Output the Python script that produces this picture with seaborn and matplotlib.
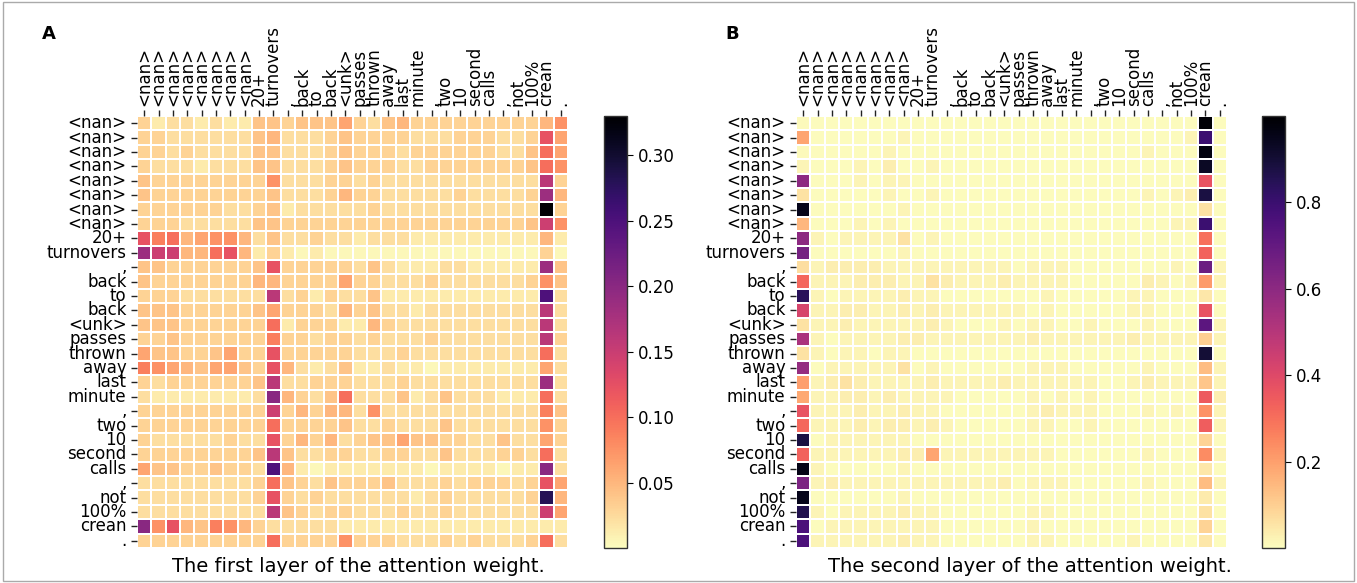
import numpy as np
import matplotlib
matplotlib.use("Agg")
import matplotlib.pyplot as plt
import seaborn as sns
from matplotlib.patches import Rectangle

tokens = ["<nan>"] * 8 + ["20+", "turnovers", ",", "back", "to", "back", "<unk>",
                          "passes", "thrown", "away", "last", "minute", ",", "two",
                          "10", "second", "calls", ",", "not", "100%", "crean", "."]

# first layer: one char per cell, mapped to the weight
levels_a = {"0": 0.004, "1": 0.013, "2": 0.022, "3": 0.03, "4": 0.04, "5": 0.05,
            "6": 0.062, "7": 0.075, "8": 0.088, "9": 0.1, "a": 0.123, "b": 0.148,
            "c": 0.162, "d": 0.185, "e": 0.2, "f": 0.25, "g": 0.28, "h": 0.33}
rows_a = [
    "312212114434446" "324533333333357",
    "332222224522234" "3333222333223a6",
    "332322224422234" "333233333322496",
    "322212224422234" "333223333333497",
    "433333333722233" "2322222222222c3",
    "433333333422235" "3322222322223d5",
    "333333223412222" "2322222222222h3",
    "333222224433333" "3333333333334b7",
    "a89567752422322" "122211111111151",
    "dbb559a51310100" "000000000000030",
    "443333334a33333" "2421112211111d4",
    "433333335533336" "332223222222374",
    "333222222c23132" "2411111111111f2",
    "444333334633325" "3422122222222c2",
    "444333333913331" "1532222222222c2",
    "334333333833233" "2322232222222c3",
    "644334633a33333" "222322222222292",
    "876546643a52124" "112110111111162",
    "323333334c22333" "2223222222222d2",
    "211111112e53249" "222412422211192",
    "333333333b35355" "272222222222284",
    "333333333933334" "223222422222273",
    "322222322a35352" "344644332242263",
    "333333334c42233" "223322422233292",
    "644334332f51011" "1111101111011e2",
    "222222223943243" "3342223233323a6",
    "222222223a32322" "2222123222223g5",
    "222222222c43233" "2223223222222b6",
    "e7a548753222221" "111111111111111",
    "333333333933337" "333222323222392",
]

# second layer: weak cells as chars, the two strong columns as lists
levels_b = {"0": 0.006, "1": 0.02, "2": 0.035, "3": 0.06, "5": 0.19, "*": 0.0}
rows_b = [
    "*00000000000000" "0000000000000*0",
    "*00000010000000" "0000000000001*0",
    "*00000100000000" "0000000001000*0",
    "*00010200100000" "0000000000000*0",
    "*00010110000000" "0000000000000*0",
    "*00000100100000" "0000000001012*0",
    "*00000010000000" "0000000000000*0",
    "*00010100000000" "0000000000011*0",
    "*10111130100000" "0000000000000*0",
    "*00000010000000" "0000000000000*0",
    "*12222111111111" "0111000000010*1",
    "*11122211321112" "1111000002101*1",
    "*10111121100000" "0010000011000*0",
    "*11221121211111" "1010000011000*0",
    "*11211111210001" "0110010001000*1",
    "*10111122111111" "1211111121111*1",
    "*10110110000000" "0000000000000*0",
    "*01111130100000" "0111000001000*1",
    "*12321111211112" "1111110012111*1",
    "*11221211110000" "0101010000000*2",
    "*11121121100000" "0121110001010*1",
    "*11121221210000" "0110010000000*1",
    "*01111110000000" "0000000000000*0",
    "*11111122511111" "1110000001000*1",
    "*10000010000000" "0000000000000*0",
    "*12111111111112" "0111000001000*1",
    "*00000010000000" "0000000000000*0",
    "*10111121100000" "0110000000000*0",
    "*01111111100000" "0100000000000*0",
    "*11111121100000" "0110000010000*0",
]
b_first_col = [0.01, 0.19, 0.01, 0.02, 0.6, 0.06, 0.95, 0.15, 0.6, 0.66,
               0.07, 0.32, 0.84, 0.42, 0.06, 0.53, 0.06, 0.58, 0.2, 0.18,
               0.37, 0.32, 0.88, 0.33, 0.96, 0.64, 0.95, 0.86, 0.76, 0.76]
b_crean_col = [0.99, 0.8, 0.97, 0.93, 0.37, 0.88, 0.06, 0.8, 0.3, 0.33,
               0.68, 0.21, 0.05, 0.37, 0.72, 0.1, 0.9, 0.14, 0.12, 0.35,
               0.23, 0.34, 0.09, 0.24, 0.05, 0.14, 0.04, 0.06, 0.09, 0.05]

attn_a = np.array([[levels_a[c] for c in r] for r in rows_a])
attn_b = np.array([[levels_b[c] for c in r] for r in rows_b])
attn_b[:, 0] = b_first_col
attn_b[:, 28] = b_crean_col

W, H = 1357, 583
fig = plt.figure(figsize=(W / 100, H / 100), dpi=100)


def box(x0, x1, y0=116, y1=548):
    return [x0 / W, 1 - y1 / H, (x1 - x0) / W, (y1 - y0) / H]


panels = [
    (attn_a, box(137, 568), box(604, 627), 0.33, [0.05, 0.10, 0.15, 0.20, 0.25, 0.30],
     "A", 42, "The first layer of the attention weight.", 358),
    (attn_b, box(796, 1227), box(1262, 1285), 1.0, [0.2, 0.4, 0.6, 0.8],
     "B", 725, "The second layer of the attention weight.", 1030),
]

for data, pos, cpos, vmax, cticks, letter, lx, caption, cx in panels:
    ax = fig.add_axes(pos)
    cax = fig.add_axes(cpos)
    sns.heatmap(data, ax=ax, cbar_ax=cax, cmap="magma_r", vmin=0, vmax=vmax,
                linewidths=1.2, linecolor="white",
                xticklabels=tokens, yticklabels=tokens)
    ax.xaxis.tick_top()
    ax.set_xticklabels(tokens, rotation=90, fontsize=12)
    ax.set_yticklabels(tokens, rotation=0, fontsize=12)
    ax.tick_params(length=4, width=1, color="#222222")
    cb = ax.collections[0].colorbar
    cb.set_ticks(cticks)
    cb.ax.tick_params(labelsize=12, length=4)
    cb.outline.set_linewidth(1)
    cb.outline.set_edgecolor("#333333")
    fig.text(lx / W, 1 - 34 / H, letter, fontsize=13, fontweight="bold", va="center")
    fig.text(cx / W, 1 - 567 / H, caption, fontsize=14, ha="center", va="center")

fig.add_artist(Rectangle((0.002, 0.003), 0.996, 0.994, transform=fig.transFigure,
                         fill=False, edgecolor="#aaaaaa", linewidth=1))

fig.savefig("out.png", dpi=100)
